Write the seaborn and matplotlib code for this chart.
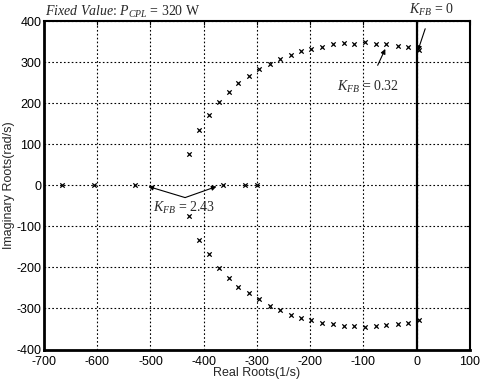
import matplotlib
matplotlib.use("Agg")
import matplotlib.pyplot as plt
import seaborn as sns
import pandas as pd

# complex branch (upper half); lower half listed separately
branch_re = [-428, -409, -391, -372, -353, -335, -315, -297, -275, -257, -237, -217,
             -199, -177, -157, -137, -117, -98, -77, -57, -35, -16, 4]
branch_im_up = [77, 135, 172, 203, 227, 250, 265, 282, 296, 307, 318, 326,
                331, 337, 343, 347, 345, 348, 345, 343, 339, 336, 330]
branch_im_low = [-75, -133, -168, -201, -225, -247, -263, -278, -293, -304, -315, -323,
                 -329, -335, -339, -343, -343, -345, -343, -341, -338, -335, -328]

# roots sitting on the real axis
real_axis_re = [-667, -606, -529, -364, -323, -300]
real_axis_im = [0, 0, 0, 0, 0, 0]

x_ticks = [-700, -600, -500, -400, -300, -200, -100, 0, 100]
y_ticks = [-400, -300, -200, -100, 0, 100, 200, 300, 400]

df = pd.DataFrame({
    're': branch_re + branch_re + real_axis_re,
    'im': branch_im_up + branch_im_low + real_axis_im,
})

sns.set_style('white')
plt.rcParams['font.family'] = ['Liberation Sans', 'DejaVu Sans']
plt.rcParams['axes.unicode_minus'] = False
plt.rcParams['mathtext.fontset'] = 'custom'
plt.rcParams['mathtext.rm'] = 'Liberation Serif'
plt.rcParams['mathtext.it'] = 'Liberation Serif:italic'

fig = plt.figure(figsize=(4.82, 3.82), dpi=100)
ax = fig.add_axes([0.0913, 0.085, 0.8837, 0.86])

sns.scatterplot(data=df, x='re', y='im', marker='x', color='black', s=10,
                linewidth=0.9, ax=ax, zorder=3)

ax.set_xlim(-700, 100)
ax.set_ylim(-400, 400)
ax.set_xticks(x_ticks)
ax.set_yticks(y_ticks)
ax.tick_params(direction='in', length=3, labelsize=9, top=True, right=True,
               colors='black')
ax.tick_params(axis='x', pad=5)
ax.tick_params(axis='y', pad=2)
ax.grid(True, linestyle=(0, (1.5, 2)), color='black', linewidth=0.8)
ax.axvline(0, color='black', linewidth=1.6, zorder=2)

for side in ['left', 'bottom']:
    ax.spines[side].set_linewidth(2)
for side in ['top', 'right']:
    ax.spines[side].set_linewidth(1.5)
for sp in ax.spines.values():
    sp.set_color('black')

ax.set_xlabel('Real Roots(1/s)', fontsize=9, labelpad=-1)
ax.set_ylabel('Imaginary Roots(rad/s)', fontsize=9, labelpad=1)

serif = ['Liberation Serif', 'DejaVu Serif']
ax.text(0.002, 1.002, r'$\it{Fixed\ Value}$: $P_{CPL}$ = 320 W', transform=ax.transAxes,
        fontsize=10, family=serif, ha='left', va='bottom')

arrow = dict(arrowstyle='-|>', color='black', lw=0.8, mutation_scale=7)
ax.annotate(r'$K_{FB}$ = 0', xy=(2, 327), xytext=(28, 428), fontsize=10,
            family=serif, ha='center', va='center', annotation_clip=False,
            arrowprops=dict(arrow, shrinkA=6, shrinkB=0))
ax.annotate(r'$K_{FB}$ = 0.32', xy=(-59, 332), xytext=(-92, 240), fontsize=10,
            family=serif, ha='center', va='center',
            arrowprops=dict(arrow, shrinkA=8, shrinkB=0))
ax.text(-437, -55, r'$K_{FB}$ = 2.43', fontsize=10, family=serif,
        ha='center', va='center')
for tx in [-504, -376]:
    ax.annotate('', xy=(tx, -3), xytext=(-435, -30),
                arrowprops=dict(arrow, shrinkA=0, shrinkB=0))

fig.savefig('out.png', dpi=100)
